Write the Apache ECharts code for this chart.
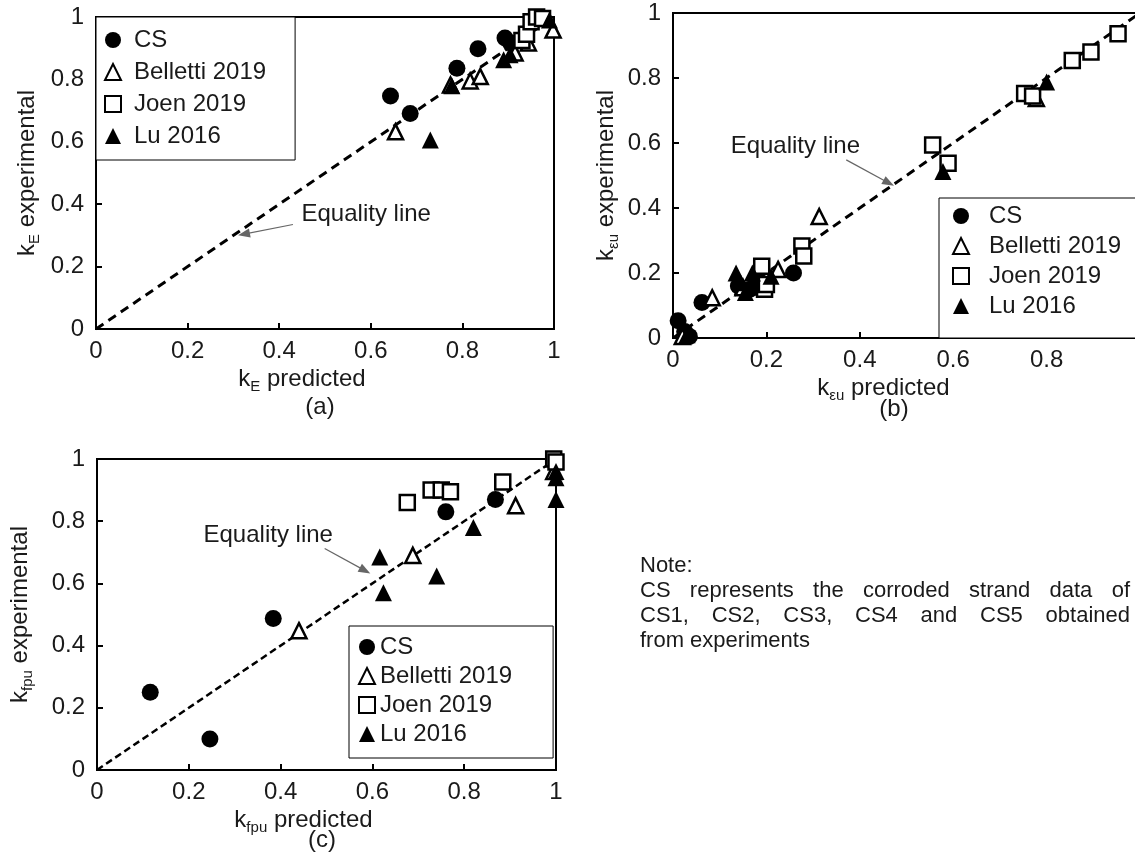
<!DOCTYPE html>
<html>
<head>
<meta charset="utf-8">
<title>k predicted vs experimental</title>
<script src="https://cdn.jsdelivr.net/npm/echarts@6.0.0/dist/echarts.min.js"></script>
<style>
  html, body { margin: 0; padding: 0; background: #fff; }
  #main { width: 1135px; height: 857px; }
</style>
</head>
<body>
<div id="main"></div>
<script>
// names of the four data groups
var groupNames = ['CS', 'Belletti 2019', 'Joen 2019', 'Lu 2016'];
var tickValues = [0, 0.2, 0.4, 0.6, 0.8, 1];

// (a) kE : [predicted, experimental]
var aCS = [[0.643, 0.747], [0.686, 0.691], [0.788, 0.836], [0.834, 0.898], [0.893, 0.933], [0.905, 0.917]];
var aBelletti = [[0.654, 0.632], [0.774, 0.782], [0.817, 0.795], [0.839, 0.809], [0.915, 0.885], [0.944, 0.917], [0.998, 0.958]];
var aJoen = [[0.93, 0.925], [0.94, 0.945], [0.95, 0.985], [0.962, 1.0], [0.975, 0.995]];
var aLu = [[0.73, 0.606], [0.777, 0.78], [0.89, 0.863], [0.904, 0.879], [0.99, 0.99]];

// (b) k_eu
var bCS = [[0.011, 0.053], [0.025, 0.02], [0.035, 0.005], [0.062, 0.109], [0.14, 0.16], [0.165, 0.15], [0.18, 0.17], [0.258, 0.2]];
var bBelletti = [[0.02, 0.005], [0.084, 0.124], [0.15, 0.155], [0.225, 0.211], [0.313, 0.374], [0.778, 0.737]];
var bJoen = [[0.19, 0.221], [0.196, 0.15], [0.2, 0.165], [0.276, 0.283], [0.28, 0.252], [0.556, 0.594], [0.589, 0.538],
             [0.753, 0.752], [0.77, 0.745], [0.855, 0.854], [0.895, 0.88], [0.953, 0.936]];
var bLu = [[0.03, 0.01], [0.135, 0.2], [0.145, 0.17], [0.155, 0.14], [0.17, 0.2], [0.21, 0.19], [0.578, 0.512], [0.8, 0.788]];

// (c) k_fpu
var cCS = [[0.116, 0.25], [0.246, 0.1], [0.384, 0.487], [0.76, 0.83], [0.868, 0.87]];
var cBelletti = [[0.44, 0.448], [0.688, 0.69], [0.912, 0.85], [0.995, 0.96]];
var cJoen = [[0.676, 0.86], [0.728, 0.9], [0.75, 0.9], [0.77, 0.895], [0.884, 0.926], [0.995, 1.0], [1.0, 0.99]];
var cLu = [[0.616, 0.685], [0.624, 0.57], [0.74, 0.624], [0.82, 0.78], [1.0, 0.87], [1.0, 0.94], [1.0, 0.96]];

var equality = [[0, 0], [1, 1]];

// "Equality line" note: text centre, arrow start, arrow tip (data units)
var aNote = [[0.59, 0.367], [0.43, 0.335], [0.323, 0.304]];
var bNote = [[0.262, 0.589], [0.371, 0.548], [0.462, 0.477]];
var cNote = [[0.373, 0.755], [0.496, 0.712], [0.584, 0.641]];

var FONT = 'Liberation Sans, Arial, sans-serif';
var INK = '#1a1a1a';

var chart = echarts.init(document.getElementById('main'));

function xAxisOf(g, name, gap, pad) {
  return {
    type: 'value', gridIndex: g, min: 0, max: 1, interval: 0.2,
    axisLine: { show: true, onZero: false, lineStyle: { color: '#000', width: 2 } },
    axisTick: { show: true, inside: true, length: 6, lineStyle: { color: '#000', width: 2 } },
    splitLine: { show: false },
    axisLabel: { color: INK, fontSize: 24, fontFamily: FONT, margin: 10 },
    name: name, nameLocation: 'middle', nameGap: gap,
    nameTextStyle: {
      color: INK, fontSize: 24, fontFamily: FONT, lineHeight: 30, padding: pad,
      rich: { s: { fontSize: 15, lineHeight: 15, verticalAlign: 'bottom', fontFamily: FONT, color: INK } }
    }
  };
}
function yAxisOf(g, name, gap) {
  var ax = xAxisOf(g, name, gap, 0);
  ax.axisLabel.margin = 12;
  return ax;
}

function equalitySeries(g, note, w, dash) {
  return {
    type: 'line', xAxisIndex: g, yAxisIndex: g, data: equality,
    symbol: 'none', silent: true, z: 1,
    lineStyle: { color: '#000', width: w, type: dash },
    markPoint: {
      silent: true,
      data: [{
        coord: note[0], symbol: 'circle', symbolSize: 1, itemStyle: { color: 'rgba(0,0,0,0)' },
        label: { show: true, position: 'inside', formatter: 'Equality line', color: INK, fontSize: 24, fontFamily: FONT }
      }]
    },
    markLine: {
      silent: true, symbol: ['none', 'triangle'], symbolSize: [9, 12],
      lineStyle: { color: '#666', width: 1.2, type: 'solid' },
      label: { show: false },
      data: [[{ coord: note[1] }, { coord: note[2] }]]
    }
  };
}

function groupSeries(g, list) {
  var looks = [
    { symbol: 'circle', symbolSize: 17, itemStyle: { color: '#000', opacity: 1 } },
    { symbol: 'triangle', symbolSize: 15, itemStyle: { color: '#fff', borderColor: '#000', borderWidth: 2.5, opacity: 1 } },
    { symbol: 'rect', symbolSize: 15, itemStyle: { color: '#fff', borderColor: '#000', borderWidth: 2.5, opacity: 1 } },
    { symbol: 'triangle', symbolSize: 17, itemStyle: { color: '#000', opacity: 1 } }
  ];
  return list.map(function (d, i) {
    return {
      type: 'scatter', name: groupNames[i], xAxisIndex: g, yAxisIndex: g, data: d,
      symbol: looks[i].symbol, symbolSize: looks[i].symbolSize, itemStyle: looks[i].itemStyle,
      clip: false, z: 3
    };
  });
}

function legendOf(left, top, pad, gap, textGap) {
  return {
    data: groupNames, orient: 'vertical', left: left, top: top,
    itemWidth: 16, itemHeight: 16, itemGap: gap, padding: pad,
    backgroundColor: '#fff', borderColor: '#000', borderWidth: 1,
    selectedMode: false,
    textStyle: { color: INK, fontSize: 24, fontFamily: FONT, lineHeight: 24, padding: [0, 0, 0, textGap] }
  };
}

var series = [].concat(
  [equalitySeries(0, aNote, 3, [9, 6])], groupSeries(0, [aCS, aBelletti, aJoen, aLu]),
  [equalitySeries(1, bNote, 3, [9, 6])], groupSeries(1, [bCS, bBelletti, bJoen, bLu]),
  [equalitySeries(2, cNote, 2.5, [7, 4])], groupSeries(2, [cCS, cBelletti, cJoen, cLu])
);

chart.setOption({
  backgroundColor: '#fff',
  animation: false,
  grid: [
    { left: 96, top: 17, width: 458, height: 312, show: true, borderColor: '#000', borderWidth: 2, containLabel: false, outerBoundsMode: 'none' },
    { left: 673, top: 13, width: 467, height: 325, show: true, borderColor: '#000', borderWidth: 2, containLabel: false, outerBoundsMode: 'none' },
    { left: 97, top: 459, width: 459, height: 311, show: true, borderColor: '#000', borderWidth: 2, containLabel: false, outerBoundsMode: 'none' }
  ],
  xAxis: [
    xAxisOf(0, 'k{s|E} predicted', 34, [0, 46, 0, 0]),
    xAxisOf(1, 'k{s|εu} predicted', 28, [0, 46, 0, 0]),
    xAxisOf(2, 'k{s|fpu} predicted', 34, [0, 46, 0, 0])
  ],
  yAxis: [
    yAxisOf(0, 'k{s|E} experimental', 54),
    yAxisOf(1, 'k{s|εu} experimental', 52),
    yAxisOf(2, 'k{s|fpu} experimental', 62)
  ],
  legend: [
    legendOf(96, 17, [11, 29, 12, 8], 8, 8),
    legendOf(939, 198, [6, 60, 20, 13], 6, 15),
    legendOf(349, 626, [9, 41, 12, 9], 5, 0)
  ],
  series: series
});

// panel letters and the note block
var graphics = [
  { type: 'text', x: 320, y: 407, style: { text: '(a)', fill: INK, font: '24px ' + FONT, textAlign: 'center', textVerticalAlign: 'middle' } },
  { type: 'text', x: 894, y: 409, style: { text: '(b)', fill: INK, font: '24px ' + FONT, textAlign: 'center', textVerticalAlign: 'middle' } },
  { type: 'text', x: 322, y: 840, style: { text: '(c)', fill: INK, font: '24px ' + FONT, textAlign: 'center', textVerticalAlign: 'middle' } }
];

var noteLines = ['Note:', 'CS represents the corroded strand data of', 'CS1, CS2, CS3, CS4 and CS5 obtained', 'from experiments'];
var noteFont = '22px ' + FONT;
var ctx = document.createElement('canvas').getContext('2d');
ctx.font = noteFont;
noteLines.forEach(function (line, k) {
  var y = 566 + k * 25;
  var words = line.split(' ');
  var justified = (k === 1 || k === 2);
  if (!justified) {
    graphics.push({ type: 'text', x: 640, y: y, style: { text: line, fill: INK, font: noteFont, textVerticalAlign: 'middle' } });
    return;
  }
  var total = 0;
  words.forEach(function (w) { total += ctx.measureText(w).width; });
  var space = (490 - total) / (words.length - 1);
  var x = 640;
  words.forEach(function (w) {
    graphics.push({ type: 'text', x: x, y: y, style: { text: w, fill: INK, font: noteFont, textVerticalAlign: 'middle' } });
    x += ctx.measureText(w).width + space;
  });
});

chart.setOption({ graphic: graphics });
</script>
</body>
</html>
